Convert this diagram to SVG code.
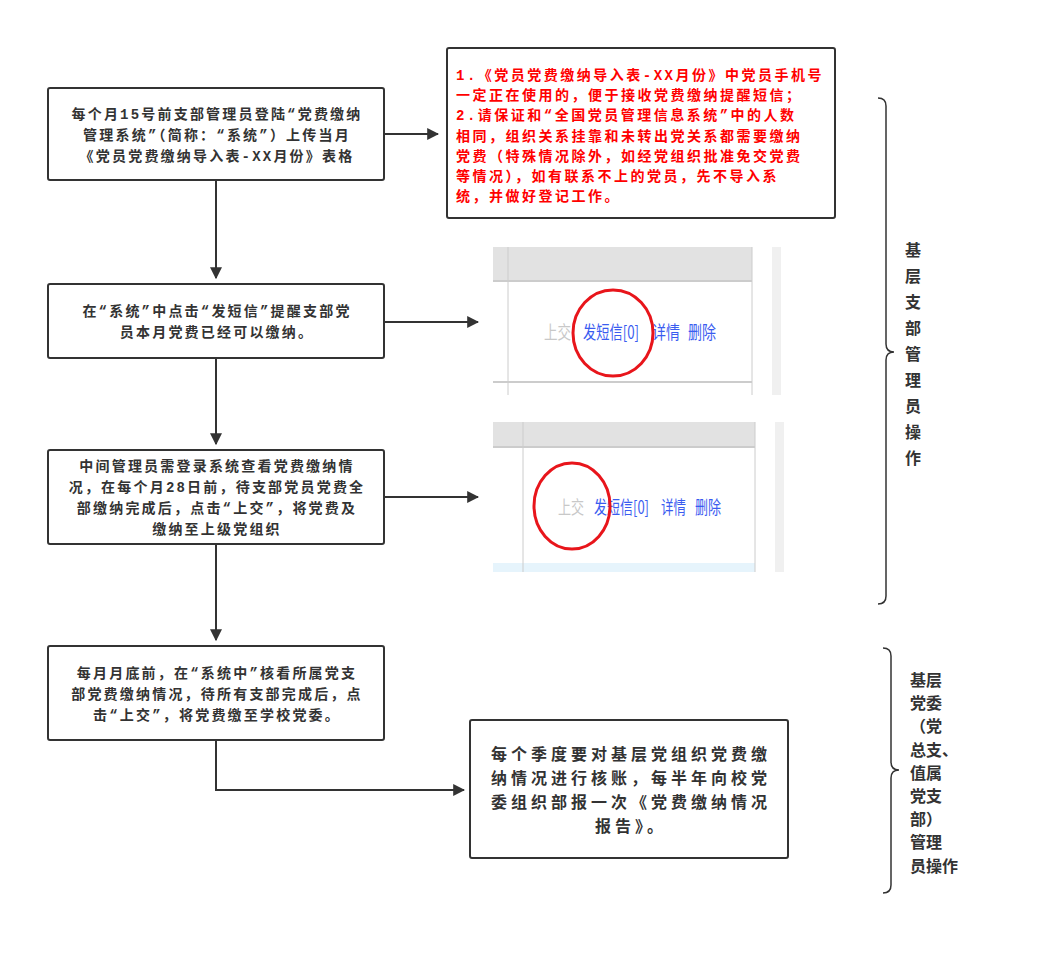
<svg xmlns="http://www.w3.org/2000/svg" width="1042" height="956" viewBox="0 0 1042 956">
<defs>
<style>
.n{fill:#fff;stroke:#333;stroke-width:2}
.t{font-family:"Liberation Mono","Noto Sans CJK SC",monospace;font-size:14px;font-weight:bold;fill:#333;text-anchor:middle;letter-spacing:2.2px}
.r{font-family:"Liberation Mono","Noto Sans CJK SC",monospace;font-size:14px;font-weight:bold;fill:#f00;letter-spacing:2.5px}
.c{fill:none;stroke:#333;stroke-width:2}
.b{fill:none;stroke:#333;stroke-width:1.5}
.s{font-family:"Noto Sans CJK SC",sans-serif;font-size:18px;fill:#3a5cf0}
.g{font-family:"Noto Sans CJK SC",sans-serif;font-size:18px;fill:#c8c8c8}
.k{font-family:"Liberation Mono","Noto Sans CJK SC",monospace;font-size:16px;font-weight:bold;fill:#333}
.k2{font-family:"Liberation Mono","Noto Sans CJK SC",monospace;font-size:16px;font-weight:bold;fill:#333;text-anchor:middle;letter-spacing:4px}
</style>
<marker id="a" viewBox="0 0 10 10" refX="9" refY="5" markerWidth="6" markerHeight="6" orient="auto"><path d="M0,0L10,5L0,10z" fill="#333"/></marker>
</defs>
<rect width="1042" height="956" fill="#fff"/>
<g id="connectors">
<path class="c" d="M384,134H438" marker-end="url(#a)"/>
<path class="c" d="M216,180V278" marker-end="url(#a)"/>
<path class="c" d="M384,322H478" marker-end="url(#a)"/>
<path class="c" d="M216,358V444" marker-end="url(#a)"/>
<path class="c" d="M384,497H478" marker-end="url(#a)"/>
<path class="c" d="M216,544V640" marker-end="url(#a)"/>
<path class="c" d="M216,740V790H464" marker-end="url(#a)"/>
</g>
<g id="n1"><rect class="n" x="48" y="88" width="336" height="92" rx="2"/>
<text class="t" x="217" y="119">每个月15号前支部管理员登陆“党费缴纳</text>
<text class="t" x="217" y="140">管理系统”（简称：“系统”）上传当月</text>
<text class="t" x="217" y="161">《党员党费缴纳导入表-XX月份》表格</text></g>
<g id="n_red"><rect class="n" x="447" y="48" width="388" height="170" rx="2"/>
<text class="r" x="456" y="80">1.《党员党费缴纳导入表-XX月份》中党员手机号</text>
<text class="r" x="456" y="100">一定正在使用的，便于接收党费缴纳提醒短信；</text>
<text class="r" x="456" y="120">2.请保证和“全国党员管理信息系统”中的人数</text>
<text class="r" x="456" y="141">相同，组织关系挂靠和未转出党关系都需要缴纳</text>
<text class="r" x="456" y="161">党费（特殊情况除外，如经党组织批准免交党费</text>
<text class="r" x="456" y="181">等情况），如有联系不上的党员，先不导入系</text>
<text class="r" x="456" y="201">统，并做好登记工作。</text></g>
<g id="n2"><rect class="n" x="48" y="284" width="336" height="74" rx="2"/>
<text class="t" x="217" y="316">在“系统”中点击“发短信”提醒支部党</text>
<text class="t" x="217" y="337">员本月党费已经可以缴纳。</text></g>
<g id="n3"><rect class="n" x="48" y="450" width="336" height="94" rx="2"/>
<text class="t" x="217" y="471">中间管理员需登录系统查看党费缴纳情</text>
<text class="t" x="217" y="492">况，在每个月28日前，待支部党员党费全</text>
<text class="t" x="217" y="513">部缴纳完成后，点击“上交”，将党费及</text>
<text class="t" x="217" y="534">缴纳至上级党组织</text></g>
<g id="n4"><rect class="n" x="48" y="646" width="336" height="94" rx="2"/>
<text class="t" x="217" y="678">每月月底前，在“系统中”核看所属党支</text>
<text class="t" x="217" y="699">部党费缴纳情况，待所有支部完成后，点</text>
<text class="t" x="217" y="720">击“上交”，将党费缴至学校党委。</text></g>
<g id="n5"><rect class="n" x="470" y="720" width="318" height="138" rx="2"/>
<text class="k2" x="631" y="760">每个季度要对基层党组织党费缴</text>
<text class="k2" x="631" y="784">纳情况进行核账，每半年向校党</text>
<text class="k2" x="631" y="808">委组织部报一次《党费缴纳情况</text>
<text class="k2" x="631" y="832">报告》。</text></g>
<g id="shot1">
<rect x="493" y="247" width="259" height="148" fill="#fff"/>
<rect x="493" y="247" width="259" height="33" fill="#e2e2e2"/>
<line x1="493" y1="281" x2="752" y2="281" stroke="#ccc" stroke-width="2"/>
<line x1="493" y1="382" x2="752" y2="382" stroke="#ccc" stroke-width="2"/>
<line x1="508" y1="247" x2="508" y2="395" stroke="#ccc"/>
<line x1="752" y1="247" x2="752" y2="395" stroke="#ccc"/>
<rect x="772" y="247" width="9" height="148" fill="#f0f0f0"/>
<text class="g" x="544" y="339" textLength="27" lengthAdjust="spacingAndGlyphs">上交</text>
<text class="s" x="583" y="339" textLength="56" lengthAdjust="spacingAndGlyphs">发短信[0]</text>
<text class="s" x="652" y="339" textLength="28" lengthAdjust="spacingAndGlyphs">详情</text>
<text class="s" x="688" y="339" textLength="28" lengthAdjust="spacingAndGlyphs">删除</text>
<ellipse cx="613" cy="333" rx="40" ry="43" fill="none" stroke="#e8151b" stroke-width="3"/>
</g>
<g id="shot2">
<rect x="493" y="422" width="262" height="150" fill="#fff"/>
<rect x="493" y="422" width="262" height="25" fill="#e2e2e2"/>
<line x1="493" y1="447" x2="755" y2="447" stroke="#ccc" stroke-width="2"/>
<rect x="493" y="563" width="262" height="9" fill="#e6f4fc"/>
<line x1="523" y1="422" x2="523" y2="572" stroke="#ccc"/>
<line x1="755" y1="422" x2="755" y2="572" stroke="#ccc"/>
<rect x="775" y="422" width="9" height="150" fill="#f0f0f0"/>
<text class="g" x="558" y="514" textLength="26" lengthAdjust="spacingAndGlyphs">上交</text>
<text class="s" x="594" y="514" textLength="55" lengthAdjust="spacingAndGlyphs">发短信[0]</text>
<text class="s" x="661" y="514" textLength="25" lengthAdjust="spacingAndGlyphs">详情</text>
<text class="s" x="695" y="514" textLength="26" lengthAdjust="spacingAndGlyphs">删除</text>
<ellipse cx="572" cy="506" rx="38" ry="43" fill="none" stroke="#e8151b" stroke-width="3"/>
</g>
<g id="brace1">
<path class="b" d="M878,98Q886,98 886,106V344Q886,352 894,352Q886,352 886,360V596Q886,604 878,604"/>
<text class="k" x="905" y="256">基</text><text class="k" x="905" y="282">层</text><text class="k" x="905" y="308">支</text><text class="k" x="905" y="334">部</text><text class="k" x="905" y="360">管</text><text class="k" x="905" y="386">理</text><text class="k" x="905" y="412">员</text><text class="k" x="905" y="438">操</text><text class="k" x="905" y="464">作</text>
</g>
<g id="brace2">
<path class="b" d="M883,648Q891,648 891,656V762Q891,770 899,770Q891,770 891,778V885Q891,893 883,893"/>
<text class="k" x="910" y="686">基层</text>
<text class="k" x="910" y="709">党委</text>
<text class="k" x="910" y="732">（党</text>
<text class="k" x="910" y="756">总支、</text>
<text class="k" x="910" y="779">值属</text>
<text class="k" x="910" y="802">党支</text>
<text class="k" x="910" y="825">部）</text>
<text class="k" x="910" y="848">管理</text>
<text class="k" x="910" y="872">员操作</text>
</g>
</svg>
